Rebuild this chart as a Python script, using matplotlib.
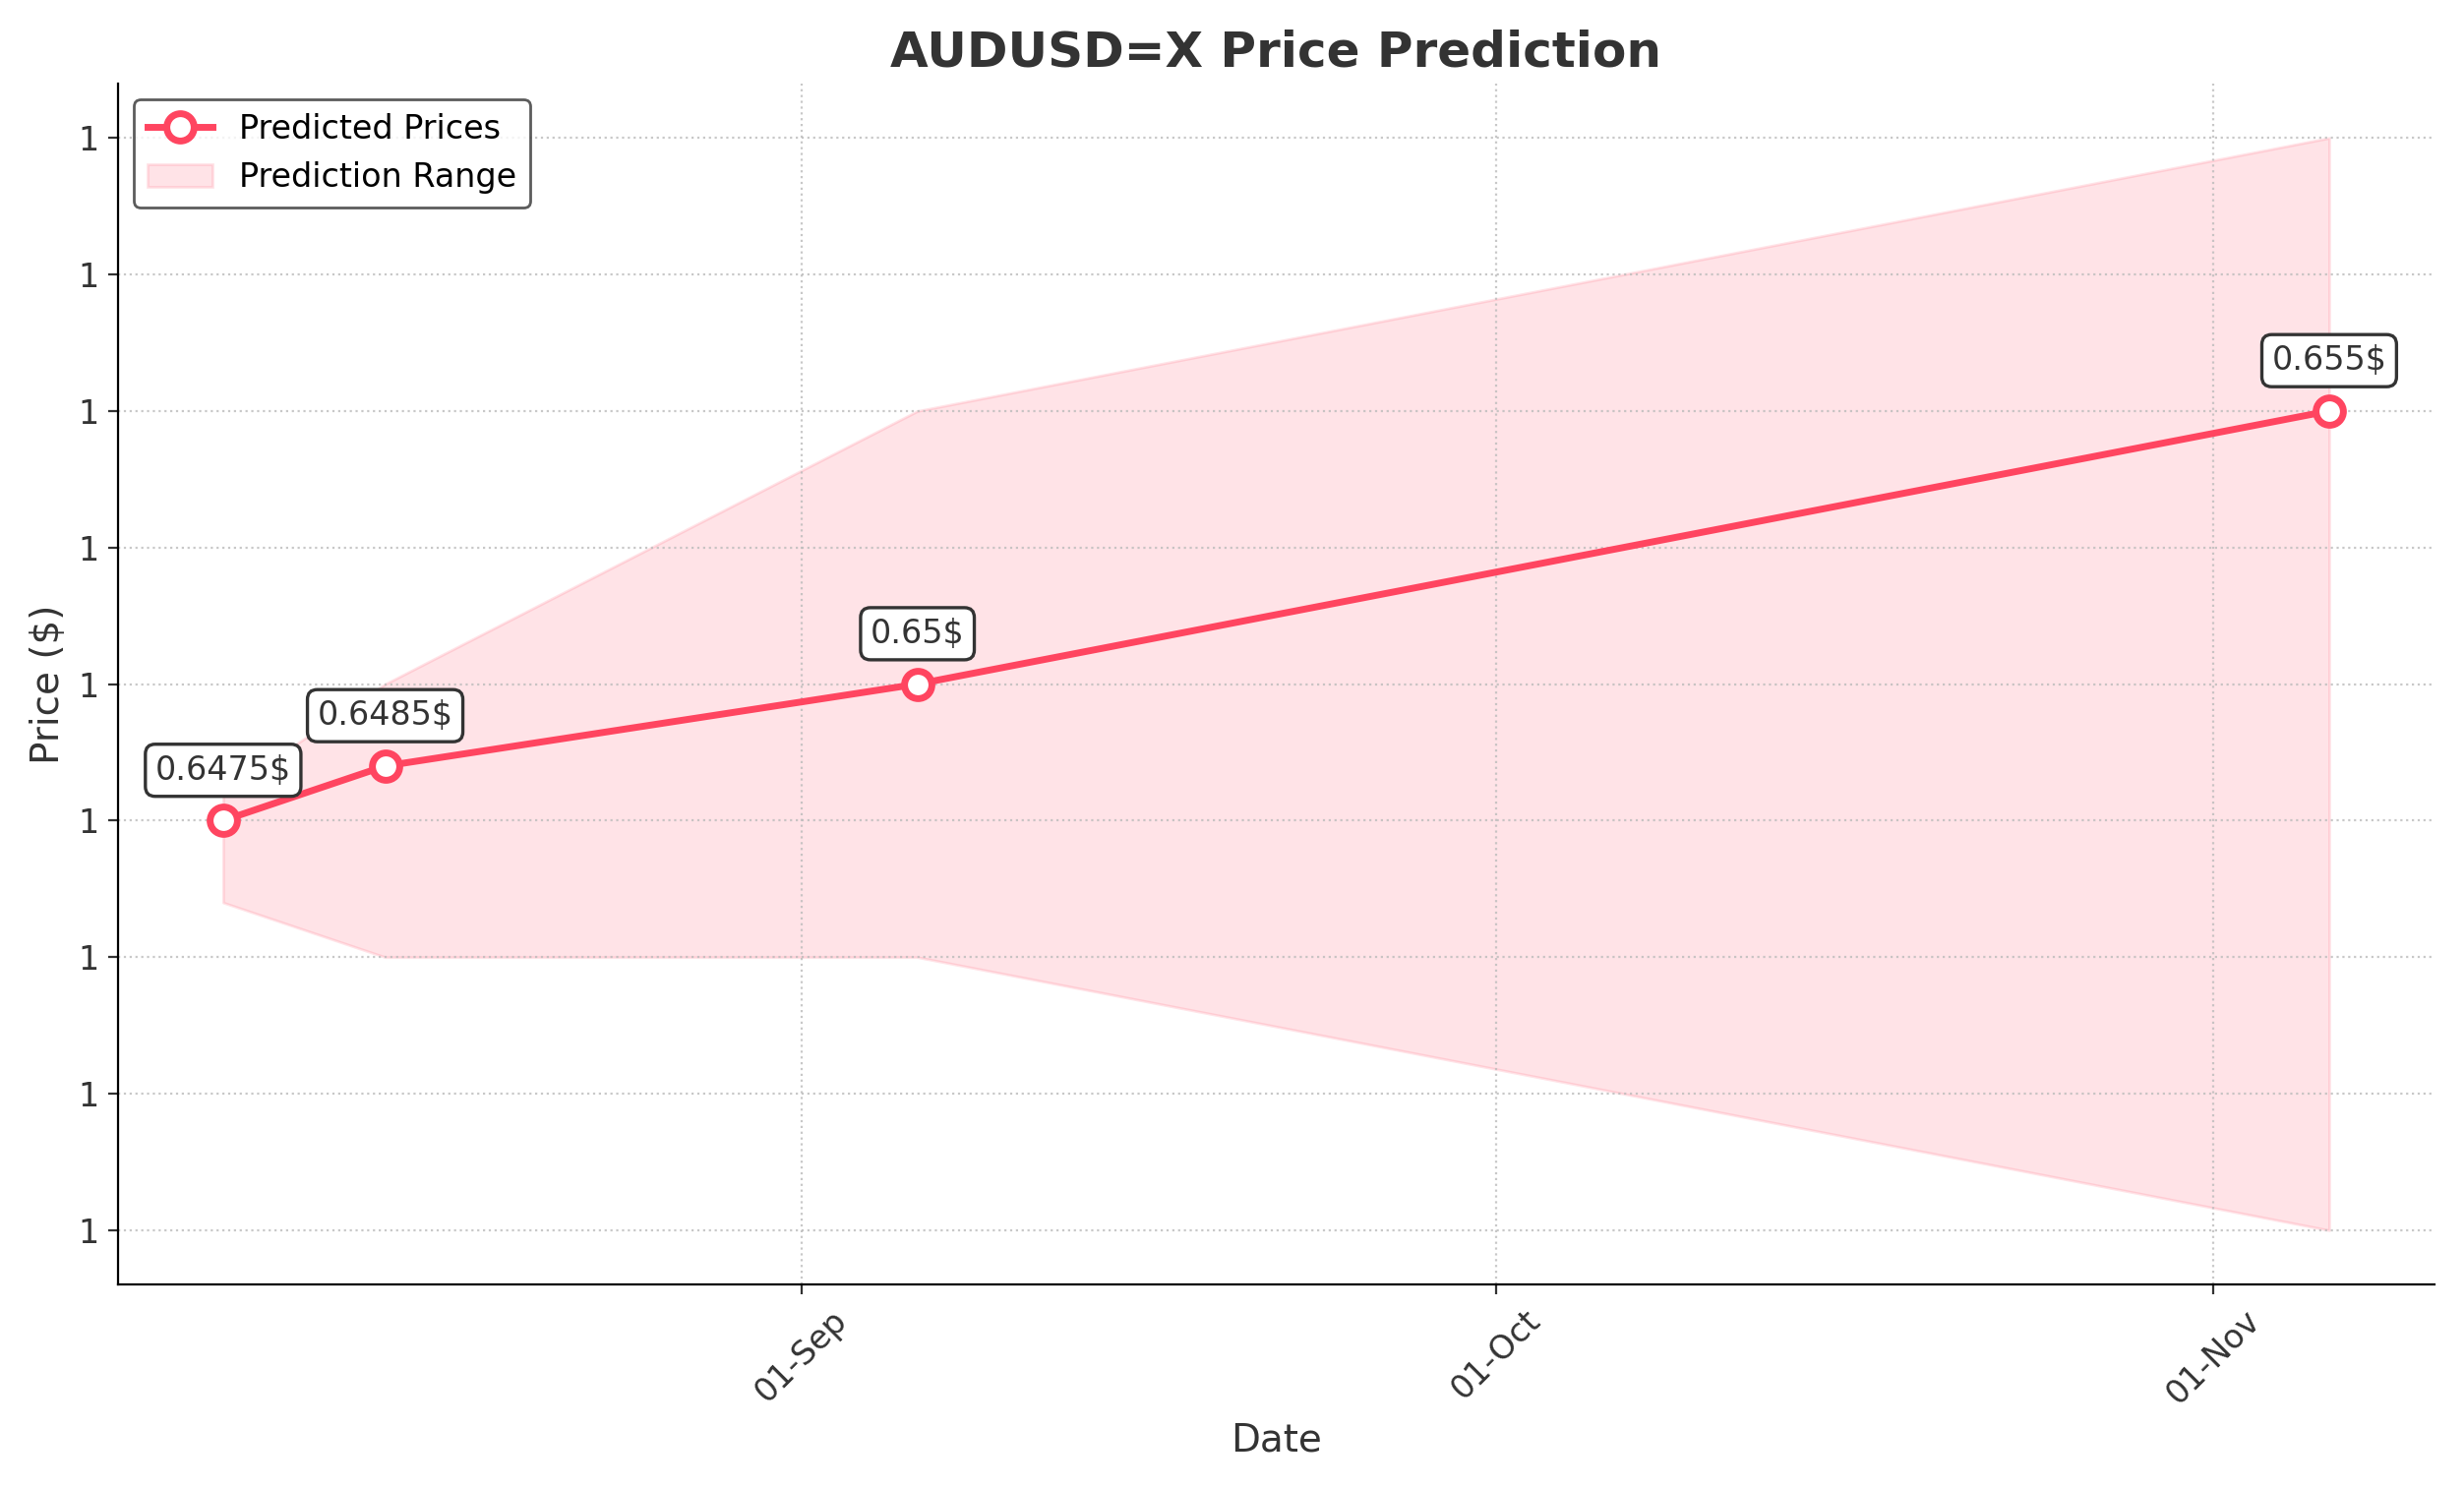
import matplotlib
matplotlib.use("Agg")
import matplotlib.pyplot as plt
import matplotlib.dates as mdates
from matplotlib.ticker import FormatStrFormatter
import pandas as pd

dates = pd.to_datetime(["2024-08-07", "2024-08-14", "2024-09-06", "2024-11-06"])
predicted = [0.6475, 0.6485, 0.65, 0.655]
upper = [0.6480, 0.6500, 0.655, 0.660]
lower = [0.6460, 0.6450, 0.645, 0.640]
labels = ["0.6475$", "0.6485$", "0.65$", "0.655$"]

color = "#ff4560"
fig, ax = plt.subplots(figsize=(12.525, 7.565), dpi=200)
ax.fill_between(dates, lower, upper, color=color, alpha=0.15, label="Prediction Range")
ax.plot(dates, predicted, color=color, lw=2.5, marker="o", ms=10, mfc="white",
        mec=color, mew=2.5, label="Predicted Prices")
for d, v, t in zip(dates, predicted, labels):
    ax.annotate(t, (d, v), xytext=(0, 15), textcoords="offset points", ha="center",
                fontsize=12, color="#333333",
                bbox=dict(boxstyle="round,pad=0.3", fc="white", ec="#333333", lw=1.2))
ax.set_title("AUDUSD=X Price Prediction", fontsize=18, fontweight="bold", color="#333333")
ax.set_xlabel("Date", fontsize=14, color="#333333")
ax.set_ylabel("Price ($)", fontsize=14, color="#333333")
ax.xaxis.set_major_locator(mdates.MonthLocator())
ax.xaxis.set_major_formatter(mdates.DateFormatter("%d-%b"))
ax.yaxis.set_major_formatter(FormatStrFormatter("%.0f"))
ax.set_yticks([0.64 + 0.0025 * i for i in range(9)])
ax.set_ylim(0.639, 0.661)
plt.setp(ax.get_xticklabels(), rotation=45)
ax.tick_params(labelsize=12, colors="#333333")
ax.grid(True, linestyle=":", color="#bbbbbb", alpha=0.8)
ax.spines["top"].set_visible(False)
ax.spines["right"].set_visible(False)
h, l = ax.get_legend_handles_labels()
ax.legend(h[::-1], l[::-1], loc="upper left", fontsize=12, edgecolor="#333333")
fig.tight_layout()
fig.savefig("out.png", dpi=200)
